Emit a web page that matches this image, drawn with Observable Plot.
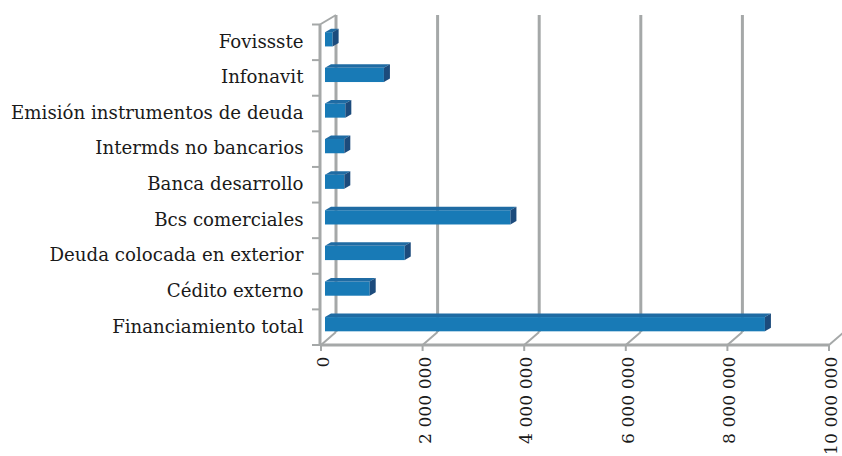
<!DOCTYPE html>
<html><head><meta charset="utf-8">
<script src="https://cdn.jsdelivr.net/npm/d3@7"></script>
<script src="https://cdn.jsdelivr.net/npm/@observablehq/plot@0.6"></script>
<style>html,body{margin:0;background:#fff}svg{display:block;overflow:hidden}</style>
</head><body><div id="c"></div>
<script>
const categories = ["Fovissste","Infonavit","Emisión instrumentos de deuda","Intermds no bancarios","Banca desarrollo","Bcs comerciales","Deuda colocada en exterior","Cédito externo","Financiamiento total"];
const values = [150000,1160000,400000,380000,380000,3650000,1570000,880000,8660000];
const xTicks = [0,2000000,4000000,6000000,8000000,10000000];
const rows = categories.map((name,i)=>({name,value:values[i]}));
const wallDx=15, wallDy=-13, grey="#a5a8a8";

function walls(index,{x,y},values,dim){
  const g=d3.create("svg:g").attr("stroke",grey).attr("fill","none");
  const bottom=dim.height-dim.marginBottom, top=dim.marginTop, left=x(0);
  const step=(bottom-top)/categories.length;
  const line=(a,b,c,d,w=3)=>g.append("line").attr("x1",a).attr("y1",b).attr("x2",c).attr("y2",d).attr("stroke-width",w);
  // back wall gridlines
  for(const t of xTicks) line(x(t)+wallDx,top-9.5,x(t)+wallDx,bottom+wallDy,3);
  // floor diagonals
  for(const t of xTicks) line(x(t),bottom,x(t)+wallDx,bottom+wallDy,2);
  // left wall
  line(left-1,top,left+wallDx,top-9.5,2);
  line(left-1,top,left-1,bottom,3);
  line(left-1,bottom,x(xTicks[xTicks.length-1]),bottom,3);
  // category ticks
  categories.forEach((c,i)=>line(left-9,top+i*step,left-1,top+i*step,2));
  line(left-9,bottom,left-1,bottom,2);
  for(const t of xTicks) line(x(t),bottom,x(t),bottom+6,2);
  return g.node();
}
function faces(index,scales,vals,dim,ctx,next){
  const node=next(index,scales,vals,dim,ctx);
  const s=d3.select(node);
  const rects=s.selectAll("rect").nodes();
  rects.forEach(r=>{
    const X=+r.getAttribute("x"),Y=+r.getAttribute("y"),W=+r.getAttribute("width"),H=+r.getAttribute("height");
    const d=6,e=3.5;
    s.append("polygon").attr("fill","#1f6ba3").attr("points",[[X,Y],[X+d,Y-e],[X+W+d,Y-e],[X+W,Y]].join(" "));
    s.append("polygon").attr("fill","#1c4b7c").attr("points",[[X+W,Y],[X+W+d,Y-e],[X+W+d,Y+H-e],[X+W,Y+H]].join(" "));
  });
  return node;
}
const plot=Plot.plot({
  width:842,height:456,
  marginLeft:321,marginRight:13,marginTop:24.5,marginBottom:111,
  style:{background:"#fff",fontFamily:"'DejaVu Serif'",fontSize:"18px",color:"#1a1a1a"},
  x:{domain:[0,10000000],label:null},
  y:{domain:categories,label:null,paddingInner:0.6,paddingOuter:0.3,align:0.5,round:false},
  marks:[
    walls,
    Plot.barX(rows,{x:"value",y:"name",fill:"#187ab6",dx:4,dy:-3,sort:null,render:faces}),
    Plot.axisY({tickSize:0,tickPadding:18,label:null,fill:"#1a1a1a",fontSize:18.2,dy:-1}),
    Plot.axisX({ticks:xTicks,tickSize:0,tickPadding:11,tickRotate:-90,label:null,dx:2,fill:"#1a1a1a",fontSize:17.2,tickFormat:d=>d3.format(",")(d).replace(/,/g," ")})
  ]
});
document.getElementById("c").append(plot);
</script></body></html>
